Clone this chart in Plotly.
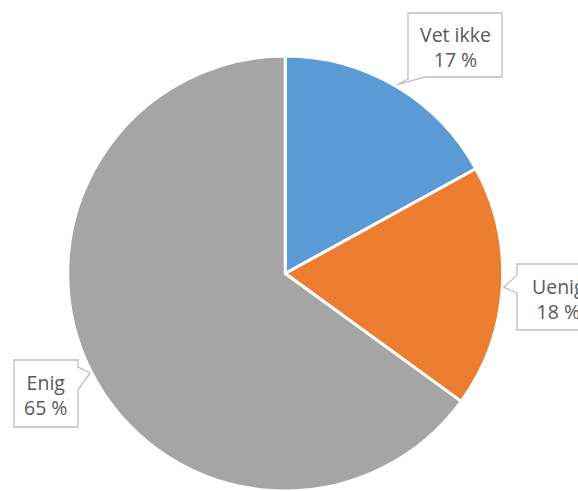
import math
import plotly.graph_objects as go

# Survey answers
labels = ["Vet ikke", "Uenig", "Enig"]
values = [17, 18, 65]
colors = ["#5B9BD5", "#ED7D31", "#A5A5A5"]

W, H = 578, 491
CX, CY, R = 285.2, 273.5, 217.5  # pie centre and radius in pixels


def px(x):
    return x / W


def py(y):
    return 1 - y / H


fig = go.Figure(go.Pie(
    labels=labels,
    values=values,
    sort=False,
    direction="clockwise",
    rotation=0,
    marker=dict(colors=colors, line=dict(color="white", width=3)),
    textinfo="none",
    hoverinfo="label+percent",
    domain=dict(x=[px(CX - R), px(CX + R)], y=[py(CY + R), py(CY - R)]),
    showlegend=False,
))

# Pointer tips sit on the rim at the middle of each slice
total = sum(values)
tips = []
acc = 0
for v in values:
    mid = (acc + v / 2) / total * 2 * math.pi
    tips.append((CX + (R + 1.5) * math.sin(mid), CY - (R + 1.5) * math.cos(mid)))
    acc += v

# Callout boxes: (left, top, right, bottom), pointer base points on the box edge
boxes = [
    dict(box=(408, 13, 502, 77), base=[(425, 77), (408, 79)], side="bottom"),
    dict(box=(517, 264, 600, 330), base=[(517, 293), (517, 275)], side="left"),
    dict(box=(14, 360, 78, 427), base=[(78, 367), (78, 390)], side="right"),
]


def callout_path(b, tip):
    l, t, r, btm = b["box"]
    (ax, ay), (bx, by) = b["base"]
    tx, ty = tip
    if b["side"] == "bottom":
        pts = [(l, t), (r, t), (r, btm), (ax, ay), (tx, ty), (bx, by)]
    elif b["side"] == "left":
        pts = [(l, t), (r, t), (r, btm), (l, btm), (ax, ay), (tx, ty), (bx, by)]
    else:
        pts = [(l, t), (r, t), (ax, ay), (tx, ty), (bx, by), (r, btm), (l, btm)]
    d = "M " + " L ".join(f"{px(x):.5f},{py(y):.5f}" for x, y in pts) + " Z"
    return d


shapes = []
annotations = []
for i, b in enumerate(boxes):
    shapes.append(dict(
        type="path", xref="paper", yref="paper",
        path=callout_path(b, tips[i]),
        line=dict(color="#BFBFBF", width=1.3),
        fillcolor="white", layer="above",
    ))
    l, t, r, btm = b["box"]
    annotations.append(dict(
        x=px((l + r) / 2), y=py((t + btm) / 2 + 1.5), xref="paper", yref="paper",
        text=f"{labels[i]}<br>{values[i]} %", showarrow=False,
        xanchor="center", yanchor="middle", align="center",
        font=dict(family="Open Sans", size=19.5, color="#595959"),
    ))

fig.update_layout(
    width=W, height=H,
    margin=dict(l=0, r=0, t=0, b=0),
    paper_bgcolor="white",
    plot_bgcolor="white",
    shapes=shapes,
    annotations=annotations,
)

fig.write_html("out.html")
